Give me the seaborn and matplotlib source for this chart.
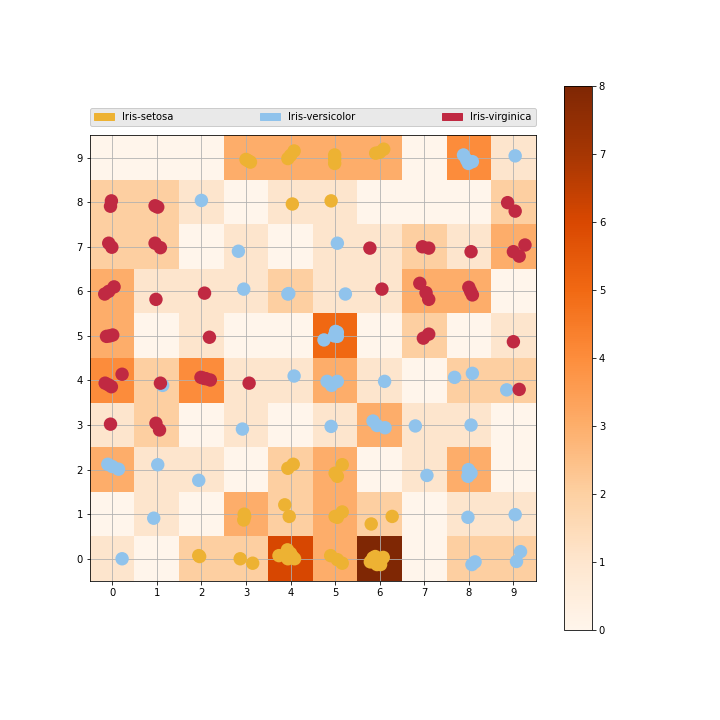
import numpy as np
import pandas as pd
import matplotlib
matplotlib.use("Agg")
import matplotlib.pyplot as plt
import matplotlib.patches as mpatches
import seaborn as sns

# SOM hit map: number of samples won by each node, rows are y = 0..9, columns x = 0..9
hits = np.array([
    [1, 0, 2, 2, 6, 3, 8, 0, 2, 2],
    [0, 1, 0, 3, 2, 3, 2, 0, 1, 1],
    [3, 1, 1, 0, 2, 3, 0, 1, 3, 0],
    [1, 2, 0, 1, 0, 1, 3, 1, 1, 0],
    [4, 2, 4, 1, 1, 3, 1, 0, 2, 2],
    [3, 0, 1, 0, 0, 5, 0, 2, 0, 1],
    [3, 1, 1, 1, 2, 1, 1, 3, 3, 0],
    [2, 2, 0, 1, 0, 1, 1, 2, 1, 3],
    [2, 2, 1, 0, 1, 1, 0, 0, 0, 2],
    [0, 0, 0, 3, 3, 3, 3, 0, 4, 1],
])

classes = ["Iris-setosa", "Iris-versicolor", "Iris-virginica"]
colors = ["#EDB233", "#90C3EC", "#C02942"]

# winner positions (jittered)
setosa_x = [3.0, 3.1, 3.05, 3.94, 4.08, 4.0, 4.04, 4.99, 4.99, 4.99, 5.91, 6.09, 6.0,
            4.91, 3.94, 4.06, 5.16, 5.0, 5.05, 2.96, 2.95, 2.97, 3.87, 3.97, 5.05, 5.16,
            5.0, 5.81, 6.28, 1.94, 1.96, 2.87, 3.15, 3.74, 3.93, 4.04, 3.94, 4.09, 4.0,
            4.9, 5.05, 5.16, 5.79, 5.9, 6.05, 5.94, 6.02, 5.96, 6.08, 5.85]
setosa_y = [8.96, 8.9, 8.93, 8.98, 9.15, 9.05, 7.96, 9.06, 8.87, 8.97, 9.1, 9.19, 9.12,
            8.03, 2.03, 2.12, 2.11, 1.92, 1.85, 1.0, 0.87, 0.95, 1.21, 0.95, 0.93, 1.05,
            0.95, 0.78, 0.95, 0.07, 0.05, 0.0, -0.1, 0.07, 0.2, 0.05, 0.0, 0.0, 0.12,
            0.07, -0.02, -0.1, -0.07, 0.05, 0.01, -0.13, -0.13, 0.0, 0.03, 0.02]

versicolor_x = [2.0, 7.88, 7.99, 8.08, 7.95, 9.04, 2.83, 5.05, 2.95, 3.94, 3.96, 5.23,
                4.75, 5.01, 5.05, 4.98, 5.05, 1.13, 4.08, 4.82, 4.92, 5.05, 6.11, 7.68,
                8.08, 8.85, 2.92, 4.91, 5.85, 5.94, 6.12, 6.8, 8.05, -0.1, 0.14, 0.0,
                1.02, 1.94, 7.06, 7.99, 7.98, 8.05, 0.93, 7.98, 9.04, 0.22, 8.07, 8.14,
                9.07, 9.16]
versicolor_y = [8.04, 9.06, 8.87, 8.91, 8.95, 9.04, 6.9, 7.08, 6.05, 5.94, 5.95, 5.94,
                4.91, 5.1, 4.99, 5.0, 5.08, 3.89, 4.1, 3.98, 3.89, 3.98, 3.98, 4.07,
                4.16, 3.79, 2.91, 2.97, 3.09, 2.99, 2.94, 2.98, 3.0, 2.12, 2.01, 2.07,
                2.11, 1.76, 1.87, 2.0, 1.85, 1.92, 0.91, 0.93, 0.99, 0.0, -0.13, -0.07,
                -0.06, 0.16]

virginica_x = [-0.02, -0.04, 0.96, 1.02, 8.87, 9.04, -0.08, -0.01, 0.96, 1.08, 5.78,
               6.96, 7.1, 8.05, 9.0, 9.13, 9.26, -0.17, 0.04, -0.08, 0.98, 2.07, 6.05,
               6.9, 7.04, 7.1, 8.0, 8.08, 8.04, -0.13, 0.01, -0.06, 2.18, 6.98, 7.1,
               9.0, -0.16, -0.02, 0.22, -0.08, 1.08, 1.99, 2.1, 2.2, 2.05, 3.07, 9.13,
               -0.04, 0.98, 1.06]
virginica_y = [8.03, 7.91, 7.92, 7.89, 7.99, 7.8, 7.08, 6.99, 7.08, 6.98, 6.97,
               7.0, 6.97, 6.89, 6.89, 6.79, 7.04, 5.94, 6.1, 6.0, 5.82, 5.96, 6.05,
               6.18, 5.97, 5.82, 6.09, 5.92, 6.0, 4.99, 5.02, 5.0, 4.97, 4.95, 5.04,
               4.87, 3.94, 3.86, 4.14, 3.9, 3.94, 4.07, 4.04, 4.01, 4.05, 3.94, 3.8,
               3.02, 3.04, 2.89]

points = pd.DataFrame({
    "x": setosa_x + versicolor_x + virginica_x,
    "y": setosa_y + versicolor_y + virginica_y,
    "species": [classes[0]] * len(setosa_x) + [classes[1]] * len(versicolor_x)
               + [classes[2]] * len(virginica_x),
})

fig = plt.figure(figsize=(10, 10), dpi=72)
ax = fig.add_axes([0.125, 0.193, 0.619, 0.619])
cax = fig.add_axes([0.783, 0.125, 0.039, 0.756])

im = ax.imshow(hits, cmap="Oranges", vmin=0, vmax=8, origin="lower", zorder=0)
fig.colorbar(im, cax=cax)

sns.scatterplot(data=points, x="x", y="y", hue="species", hue_order=classes,
                palette=colors, s=180, linewidth=0, alpha=1, legend=False,
                ax=ax, zorder=3)

ax.set_xlim(-0.5, 9.5)
ax.set_ylim(-0.5, 9.5)
ax.set_xticks(range(10))
ax.set_yticks(range(10))
ax.set_xlabel("")
ax.set_ylabel("")
ax.grid(True, color="#b0b0b0", linewidth=0.8, zorder=1.5)

handles = [mpatches.Patch(color=c, label=l) for c, l in zip(colors, classes)]
leg = ax.legend(handles=handles, loc="lower left", bbox_to_anchor=(0, 1.02, 1, 0.102),
                ncol=3, mode="expand", borderaxespad=0, facecolor="#e9e9e9",
                framealpha=1)

fig.savefig("out.png", dpi=72)
